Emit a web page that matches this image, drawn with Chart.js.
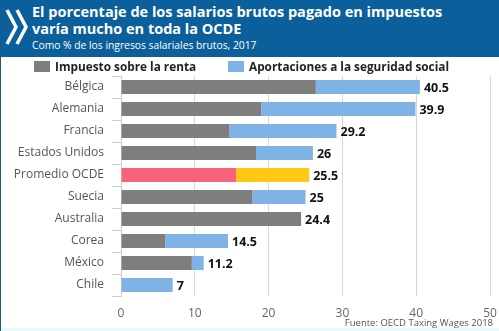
<!DOCTYPE html>
<html>
<head>
<meta charset="utf-8">
<script src="https://cdn.jsdelivr.net/npm/chart.js@4"></script>
<style>
  html, body { margin: 0; padding: 0; background: #fff; }
  #wrap { position: relative; width: 499px; height: 331px; overflow: hidden; font-family: "Open Sans", "DejaVu Sans", sans-serif; }
  #header { position: absolute; left: 0; top: 0; width: 499px; height: 57px; background: #0b5f9b; color: #fff; }
  #logo { position: absolute; left: 5px; top: 6px; }
  #title { position: absolute; left: 32px; top: 3px; font-size: 14.5px; font-weight: bold; line-height: 17px; }
  #subtitle { position: absolute; left: 32px; top: 38px; font-size: 10.3px; }
  #legend { position: absolute; top: 57px; left: 0; width: 499px; height: 18px; font-size: 11.8px; font-weight: bold; color: #222; }
  .item { position: absolute; top: 1px; white-space: nowrap; }
  .sw { display: inline-block; width: 16px; height: 11px; vertical-align: -1px; margin-right: 5px; }
  #source { position: absolute; right: 6px; top: 316px; font-size: 9.5px; color: #555; }
  #chart { position: absolute; left: 0; top: 0; }
  #edgeL { position: absolute; left: 0; top: 57px; width: 1px; height: 274px; background: #1f5a78; }
  #edgeB { position: absolute; left: 1px; top: 328px; width: 498px; height: 3px; background: #e6fafc; }
</style>
</head>
<body>
<div id="wrap">
  <canvas id="chart" width="499" height="331"></canvas>
  <div id="header">
    <svg id="logo" width="24" height="42" viewBox="0 0 24 42">
      <polyline points="2,4 11,21 2,38" fill="none" stroke="#fff" stroke-width="3.5"/>
      <polyline points="12,4 21,21 12,38" fill="none" stroke="#fff" stroke-width="3.5"/>
    </svg>
    <div id="title">El porcentaje de los salarios brutos pagado en impuestos<br>varía mucho en toda la OCDE</div>
    <div id="subtitle">Como % de los ingresos salariales brutos, 2017</div>
  </div>
  <div id="legend">
    <span class="item" style="left:34px"><span class="sw" style="background:#7e7e7e"></span>Impuesto sobre la renta</span>
    <span class="item" style="left:228px"><span class="sw" style="background:#7fb2e5"></span>Aportaciones a la seguridad social</span>
  </div>
  <div id="edgeL"></div>
  <div id="edgeB"></div>
  <div id="source">Fuente: OECD Taxing Wages 2018</div>
</div>
<script>
const countries = ['Bélgica', 'Alemania', 'Francia', 'Estados Unidos', 'Promedio OCDE', 'Suecia', 'Australia', 'Corea', 'México', 'Chile'];
const incomeTax = [26.4, 19.0, 14.7, 18.3, 15.6, 17.8, 24.4, 6.0, 9.6, 0];
const socialSecurity = [14.1, 20.9, 14.5, 7.7, 9.9, 7.2, 0, 8.5, 1.6, 7.0];
const totals = [40.5, 39.9, 29.2, 26, 25.5, 25, 24.4, 14.5, 11.2, 7];
const xTicks = [0, 10, 20, 30, 40, 50];

const grayColors = countries.map(function(c) { return c === 'Promedio OCDE' ? '#f8627a' : '#7e7e7e'; });
const blueColors = countries.map(function(c) { return c === 'Promedio OCDE' ? '#fec815' : '#7fb2e5'; });

// total labels at the end of each bar
const totalLabels = {
  id: 'totalLabels',
  afterDatasetsDraw: function(chart) {
    const ctx = chart.ctx;
    const x = chart.scales.x;
    const y = chart.scales.y;
    ctx.save();
    ctx.font = 'bold 12.5px "Open Sans", "DejaVu Sans", sans-serif';
    ctx.fillStyle = '#111';
    ctx.textBaseline = 'middle';
    ctx.textAlign = 'left';
    totals.forEach(function(t, i) {
      ctx.fillText(String(t), x.getPixelForValue(t) + 4, y.getPixelForValue(i) + 1);
    });
    ctx.restore();
  }
};

new Chart(document.getElementById('chart').getContext('2d'), {
  type: 'bar',
  data: {
    labels: countries,
    datasets: [
      {
        label: 'Impuesto sobre la renta',
        data: incomeTax,
        backgroundColor: grayColors,
        barPercentage: 0.64,
        categoryPercentage: 1
      },
      {
        label: 'Aportaciones a la seguridad social',
        data: socialSecurity,
        backgroundColor: blueColors,
        barPercentage: 0.64,
        categoryPercentage: 1
      }
    ]
  },
  options: {
    indexAxis: 'y',
    responsive: false,
    animation: false,
    layout: { padding: { top: 76, right: 9, left: 0, bottom: 0 } },
    plugins: {
      legend: { display: false },
      tooltip: { enabled: false }
    },
    scales: {
      x: {
        stacked: true,
        min: 0,
        max: 50,
        afterBuildTicks: function(s) { s.ticks = xTicks.map(function(v) { return { value: v }; }); },
        afterFit: function(s) {
          s.height = 35;
          s.paddingLeft = 0;
          s.paddingRight = 0;
        },
        grid: { color: '#d8d8d8', drawTicks: false },
        border: { display: false },
        ticks: { color: '#666', padding: 10, font: { size: 12, family: '"Open Sans", "DejaVu Sans", sans-serif' } }
      },
      y: {
        stacked: true,
        afterFit: function(s) { s.width = 121; },
        grid: { drawOnChartArea: false, color: '#ccc', tickLength: 9, offset: true },
        border: { color: '#ccc' },
        ticks: { color: '#555', padding: 8, font: { size: 12, family: '"Open Sans", "DejaVu Sans", sans-serif' } }
      }
    }
  },
  plugins: [totalLabels]
});
</script>
</body>
</html>
